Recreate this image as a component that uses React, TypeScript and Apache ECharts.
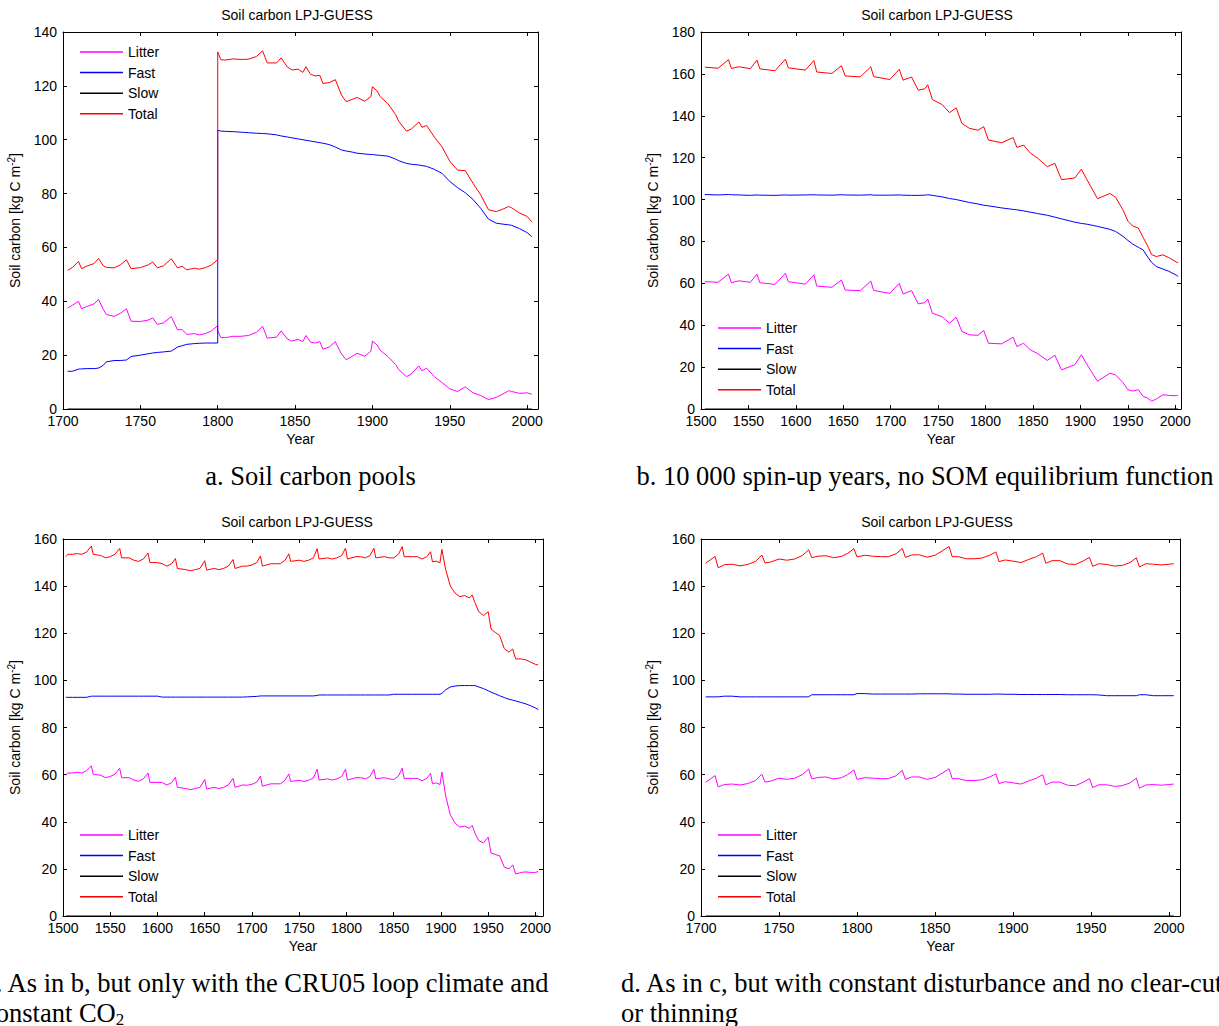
import React, { useEffect, useRef } from "react";
import * as echarts from "echarts";

// ---------- a. Soil carbon pools (clear-cut in 1800) ----------
const yearsA = [
  1703, 1706, 1710, 1712, 1715, 1720, 1723, 1726, 1728, 1733,
  1737, 1741, 1744, 1750, 1755, 1758, 1761, 1765, 1770, 1774,
  1777, 1780, 1785, 1788, 1792, 1796, 1800,
  1800, 1802, 1805, 1810, 1815, 1820, 1825, 1829, 1832, 1835,
  1838, 1841, 1845, 1848, 1852, 1855, 1857, 1860, 1863, 1866,
  1868, 1872, 1876, 1880, 1883, 1887, 1890, 1895, 1899, 1900,
  1903, 1905, 1910, 1915, 1917, 1922, 1925, 1930, 1932, 1935,
  1940, 1945, 1950, 1955, 1960, 1965, 1970, 1975, 1980, 1985,
  1988, 1990, 1995, 2000, 2003,
];
const litterA = [
  37.5, 38.5, 40.0, 37.2, 38.0, 39.0, 40.7, 37.0, 35.1, 34.4,
  35.5, 37.2, 32.6, 32.5, 33.0, 33.8, 31.4, 32.0, 34.3, 29.4,
  29.5, 27.7, 28.0, 27.5, 28.0, 29.0, 31.0,
  29.1, 26.5, 26.5, 27.0, 27.0, 27.3, 28.5, 30.7, 26.3, 26.5,
  26.7, 29.0, 26.0, 25.2, 25.9, 25.0, 27.3, 24.8, 24.5, 25.0,
  22.2, 23.0, 25.0, 20.4, 18.3, 19.6, 20.7, 19.6, 21.5, 25.2,
  23.8, 21.8, 19.5, 16.5, 14.6, 12.0, 13.0, 16.0, 14.2, 15.2,
  12.0, 9.8, 7.5, 6.5, 8.2, 6.0, 5.0, 3.5, 4.3, 5.8,
  6.8, 6.5, 5.8, 6.0, 5.5,
];
const fastA = [
  14.0, 14.0, 14.8, 14.9, 15.0, 15.0, 15.2, 16.2, 17.5, 18.0,
  18.0, 18.2, 19.5, 20.0, 20.5, 20.8, 21.0, 21.2, 21.5, 23.0,
  23.5, 24.0, 24.3, 24.4, 24.5, 24.5, 24.5,
  103.5, 103.2, 103.1, 103.0, 102.8, 102.6, 102.4, 102.3, 102.2, 102.0,
  101.8, 101.4, 101.0, 100.7, 100.3, 100.0, 99.8, 99.5, 99.2, 98.9,
  98.7, 98.2, 97.3, 96.2, 95.8, 95.4, 95.0, 94.7, 94.5, 94.5,
  94.3, 94.2, 93.9, 92.8, 92.2, 91.2, 90.9, 90.6, 90.4, 90.1,
  89.0, 87.5, 84.5, 82.2, 80.3, 77.8, 74.5, 70.5, 69.0, 68.6,
  68.4, 68.2, 67.0, 65.5, 64.0,
];

// ---------- b. 10 000 spin-up years, no SOM equilibrium function ----------
const yearsB = [
  1504, 1518, 1529, 1532, 1540, 1552, 1559, 1562, 1578, 1589,
  1592, 1610, 1619, 1622, 1638, 1648, 1652, 1668, 1679, 1682,
  1699, 1709, 1713, 1722, 1729, 1736, 1739, 1744, 1754, 1762,
  1769, 1775, 1783, 1792, 1798, 1803, 1817, 1829, 1833, 1840,
  1847, 1855, 1865, 1873, 1880, 1894, 1901, 1906, 1918, 1931,
  1937, 1945, 1950, 1955, 1961, 1966, 1971, 1975, 1980, 1987,
  1993, 2001, 2003,
];
const litterB = [
  60.8, 60.5, 64.4, 60.3, 61.2, 60.5, 64.4, 60.3, 59.5, 64.8,
  60.8, 59.6, 64.1, 58.7, 58.1, 61.6, 56.8, 56.5, 61.1, 56.6,
  55.2, 60.0, 54.9, 56.5, 50.2, 50.8, 52.5, 45.7, 44.1, 41.0,
  43.8, 37.0, 35.4, 35.2, 37.5, 31.4, 31.1, 34.3, 29.8, 31.4,
  28.3, 26.4, 23.2, 25.7, 18.7, 21.1, 25.9, 21.9, 13.2, 17.1,
  16.3, 12.5, 9.2, 8.6, 9.2, 6.0, 5.2, 3.7, 4.8, 6.8,
  6.5, 6.3, 6.6,
];
const fastB = [
  102.4, 102.2, 102.4, 102.3, 102.2, 102.0, 102.2, 102.1, 102.0, 102.2,
  102.1, 102.2, 102.3, 102.2, 102.1, 102.3, 102.2, 102.1, 102.3, 102.1,
  102.1, 102.2, 102.1, 102.0, 102.0, 102.1, 102.3, 102.0, 101.3, 100.5,
  100.0, 99.4, 98.6, 97.9, 97.3, 97.0, 96.0, 95.3, 95.1, 94.6,
  94.0, 93.3, 92.5, 91.6, 90.8, 89.2, 88.6, 88.3, 87.2, 85.8,
  84.8, 82.4, 80.5, 78.8, 77.2, 76.0, 72.5, 70.0, 68.0, 66.8,
  65.8, 63.9, 63.3,
];

// ---------- c. CRU05 loop climate and constant CO2 ----------
const yearsC = [
  1503, 1505, 1510, 1515, 1520, 1525, 1530, 1532, 1540, 1545,
  1550, 1555, 1560, 1562, 1570, 1575, 1580, 1585, 1590, 1592,
  1600, 1605, 1610, 1615, 1619, 1621, 1630, 1635, 1640, 1645,
  1650, 1652, 1660, 1665, 1670, 1675, 1680, 1682, 1690, 1695,
  1700, 1705, 1709, 1711, 1720, 1725, 1730, 1735, 1739, 1741,
  1750, 1755, 1760, 1765, 1769, 1771, 1780, 1785, 1790, 1795,
  1799, 1801, 1810, 1815, 1820, 1825, 1829, 1831, 1840, 1845,
  1850, 1855, 1859, 1861, 1870, 1875, 1880, 1885, 1889, 1891,
  1895, 1899, 1901, 1905, 1910, 1915, 1920, 1925, 1930, 1933,
  1936, 1940, 1945, 1950, 1953, 1958, 1962, 1967, 1972, 1976,
  1979, 1985, 1990, 1995, 2000, 2003,
];
const litterC = [
  59.7, 60.7, 60.7, 61.0, 60.7, 61.7, 63.7, 60.2, 59.7, 58.7,
  59.2, 60.2, 62.7, 58.7, 58.7, 57.7, 57.2, 58.2, 60.7, 56.7,
  56.7, 56.6, 55.6, 56.6, 58.8, 54.6, 54.1, 53.6, 54.1, 54.6,
  57.9, 53.9, 54.6, 54.1, 54.6, 55.6, 58.4, 54.6, 55.6, 55.5,
  55.9, 56.8, 59.4, 55.1, 56.1, 56.1, 56.1, 57.6, 60.3, 57.1,
  57.6, 57.1, 57.6, 58.6, 62.3, 57.7, 58.2, 57.7, 58.2, 59.2,
  62.3, 57.7, 58.7, 58.7, 58.2, 59.2, 62.3, 58.2, 58.7, 58.2,
  57.9, 59.4, 62.7, 58.4, 58.4, 58.4, 57.4, 58.4, 60.5, 56.2,
  56.5, 55.8, 61.1, 51.0, 42.8, 39.4, 37.7, 38.2, 37.2, 38.5,
  35.2, 32.0, 31.0, 33.5, 26.8, 26.0, 25.6, 20.8, 20.0, 21.7,
  17.8, 18.5, 18.7, 18.5, 18.5, 18.9,
];
const fastC = [
  92.8, 92.8, 92.8, 92.8, 92.8, 92.8, 93.3, 93.3, 93.3, 93.3,
  93.3, 93.3, 93.3, 93.3, 93.3, 93.3, 93.3, 93.3, 93.3, 93.3,
  93.3, 92.9, 92.9, 92.9, 92.9, 92.9, 92.9, 92.9, 92.9, 92.9,
  92.9, 92.9, 92.9, 92.9, 92.9, 92.9, 92.9, 92.9, 92.9, 93.0,
  93.1, 93.2, 93.4, 93.4, 93.4, 93.4, 93.4, 93.4, 93.4, 93.4,
  93.4, 93.4, 93.4, 93.4, 93.6, 93.8, 93.8, 93.8, 93.8, 93.8,
  93.8, 93.8, 93.8, 93.8, 93.8, 93.8, 93.8, 93.8, 93.8, 93.8,
  94.1, 94.1, 94.1, 94.1, 94.1, 94.1, 94.1, 94.1, 94.1, 94.1,
  94.1, 94.1, 94.5, 96.0, 97.2, 97.6, 97.8, 97.8, 97.8, 97.8,
  97.8, 97.2, 96.5, 95.6, 95.0, 94.2, 93.5, 92.7, 92.0, 91.6,
  91.3, 90.6, 90.0, 89.2, 88.3, 87.6,
];

// ---------- d. constant disturbance, no clear-cut or thinning ----------
const yearsD = [
  1703, 1709, 1711, 1715, 1720, 1725, 1730, 1735, 1739, 1741,
  1745, 1750, 1755, 1760, 1765, 1769, 1771, 1775, 1780, 1785,
  1790, 1794, 1798, 1800, 1805, 1810, 1815, 1820, 1825, 1829,
  1831, 1835, 1840, 1845, 1850, 1855, 1859, 1861, 1865, 1870,
  1875, 1880, 1885, 1889, 1891, 1895, 1900, 1905, 1910, 1915,
  1919, 1921, 1925, 1930, 1935, 1940, 1945, 1949, 1951, 1955,
  1960, 1965, 1970, 1975, 1979, 1981, 1985, 1990, 1995, 2000,
  2003,
];
const litterD = [
  56.7, 59.6, 54.8, 55.8, 56.0, 55.6, 56.2, 57.5, 60.2, 56.8,
  57.3, 58.5, 58.0, 58.5, 60.0, 62.4, 58.2, 58.8, 59.0, 58.2,
  58.7, 60.0, 62.0, 58.0, 58.7, 58.5, 58.3, 58.3, 59.5, 61.8,
  58.0, 59.0, 59.0, 58.0, 58.8, 60.8, 62.5, 58.3, 58.3, 57.5,
  57.5, 57.8, 59.0, 60.3, 56.2, 57.0, 56.5, 56.0, 57.3, 58.5,
  60.0, 55.7, 56.8, 56.8, 55.5, 55.3, 56.8, 58.3, 54.5, 55.7,
  55.7, 55.0, 55.3, 56.5, 58.5, 54.2, 55.6, 55.8, 55.5, 55.8,
  56.0,
];
const fastD = [
  93.0, 93.0, 93.0, 93.3, 93.3, 93.0, 93.0, 93.0, 93.0, 93.0,
  93.0, 93.0, 93.0, 93.0, 93.0, 93.0, 93.9, 93.9, 93.9, 93.9,
  93.9, 93.9, 93.9, 94.4, 94.4, 94.2, 94.2, 94.2, 94.2, 94.2,
  94.2, 94.2, 94.3, 94.3, 94.3, 94.3, 94.3, 94.2, 94.2, 94.1,
  94.1, 94.1, 94.1, 94.2, 94.2, 94.1, 94.1, 94.0, 94.0, 94.0,
  94.0, 94.0, 94.0, 94.0, 93.9, 93.9, 93.9, 93.9, 93.9, 93.8,
  93.5, 93.5, 93.5, 93.5, 93.5, 93.9, 93.9, 93.5, 93.5, 93.5,
  93.5,
];

// The slow pool stays empty over the whole run (start and end of each run)
const slowPool = [0, 0];

const poolNames = ["Litter", "Fast", "Slow", "Total"];
const poolColors: Record<string, string> = {
  Litter: "#ff00ff",
  Fast: "#0000ff",
  Slow: "#000000",
  Total: "#ff0000",
};

const panelTitle = "Soil carbon LPJ-GUESS";
const yAxisName = "{n|Soil carbon [kg C m}{sup|-2}{n|]}";
const xAxisName = "Year";

const SANS = '"Liberation Sans", Arial, Helvetica, sans-serif';
const SERIF = '"Liberation Serif", "Times New Roman", Times, serif';
const INK = "#000";

type Panel = {
  years: number[];
  litter: number[];
  fast: number[];
  xMin: number;
  xMax: number;
  yMax: number;
  grid: { left: number; top: number; width: number; height: number };
  legend: { left: number; top: number };
  titleX: number;
  titleY: number;
};

const panels: Panel[] = [
  {
    years: yearsA, litter: litterA, fast: fastA, xMin: 1700, xMax: 2007, yMax: 140,
    grid: { left: 63, top: 32, width: 475, height: 377 },
    legend: { left: 80, top: 45 }, titleX: 297, titleY: 15,
  },
  {
    years: yearsB, litter: litterB, fast: fastB, xMin: 1500, xMax: 2006, yMax: 180,
    grid: { left: 701, top: 32, width: 480, height: 377 },
    legend: { left: 718, top: 321 }, titleX: 937, titleY: 15,
  },
  {
    years: yearsC, litter: litterC, fast: fastC, xMin: 1500, xMax: 2008, yMax: 160,
    grid: { left: 63, top: 539, width: 480, height: 377 },
    legend: { left: 80, top: 828 }, titleX: 297, titleY: 522,
  },
  {
    years: yearsD, litter: litterD, fast: fastD, xMin: 1700, xMax: 2007, yMax: 160,
    grid: { left: 701, top: 539, width: 479, height: 377 },
    legend: { left: 718, top: 828 }, titleX: 937, titleY: 522,
  },
];

const CAPTION_SIZE = 26.5;
const captionStyle = { fontSize: CAPTION_SIZE, fontFamily: SERIF, fill: INK };

function textEl(x: number, y: number, text: string, style: Record<string, unknown>, align = "left") {
  return {
    type: "text",
    x,
    y,
    silent: true,
    style: {
      text,
      ...style,
      align,
      textAlign: align,
      verticalAlign: "middle",
      textVerticalAlign: "middle",
    },
  };
}

function buildOption() {
  const grid: any[] = [];
  const xAxis: any[] = [];
  const yAxis: any[] = [];
  const series: any[] = [];
  const legend: any[] = [];
  const graphic: any[] = [];

  panels.forEach((p, i) => {
    grid.push({ ...p.grid, containLabel: false, outerBoundsMode: "none" });

    const lineStyle = { color: INK, width: 1 };
    const xBase = {
      type: "value",
      gridIndex: i,
      min: p.xMin,
      max: p.xMax,
      interval: 50,
      splitLine: { show: false },
      axisLine: { show: true, onZero: false, lineStyle },
      axisTick: { show: true, inside: true, length: 4, lineStyle },
    };
    xAxis.push({
      ...xBase,
      position: "bottom",
      name: xAxisName,
      nameLocation: "middle",
      nameGap: 23,
      nameTextStyle: { color: INK, fontFamily: SANS, fontSize: 14 },
      axisLabel: {
        show: true,
        margin: 5,
        color: INK,
        fontFamily: SANS,
        fontSize: 14,
        formatter: (v: number) => (v % 50 === 0 ? String(v) : ""),
      },
    });
    xAxis.push({ ...xBase, position: "top", axisLabel: { show: false } });

    const yBase = {
      type: "value",
      gridIndex: i,
      min: 0,
      max: p.yMax,
      interval: 20,
      splitLine: { show: false },
      axisLine: { show: true, onZero: false, lineStyle },
      axisTick: { show: true, inside: true, length: 4, lineStyle },
    };
    yAxis.push({
      ...yBase,
      position: "left",
      name: yAxisName,
      nameLocation: "middle",
      nameRotate: 90,
      nameGap: 39,
      nameTextStyle: {
        color: INK,
        fontFamily: SANS,
        fontSize: 14,
        rich: {
          n: { color: INK, fontFamily: SANS, fontSize: 14, lineHeight: 18 },
          sup: { color: INK, fontFamily: SANS, fontSize: 10, lineHeight: 10, verticalAlign: "top" },
        },
      },
      axisLabel: { show: true, margin: 6, color: INK, fontFamily: SANS, fontSize: 14 },
    });
    yAxis.push({ ...yBase, position: "right", axisLabel: { show: false } });

    const total = p.years.map((_, k) => +(p.litter[k] + p.fast[k] + slowPool[0]).toFixed(2));
    const last = p.years.length - 1;
    const pools: Record<string, number[][]> = {
      Litter: p.years.map((y, k) => [y, p.litter[k]]),
      Fast: p.years.map((y, k) => [y, p.fast[k]]),
      Slow: [
        [p.years[0], slowPool[0]],
        [p.years[last], slowPool[1]],
      ],
      Total: p.years.map((y, k) => [y, total[k]]),
    };

    poolNames.forEach((name) => {
      series.push({
        type: "line",
        name,
        xAxisIndex: 2 * i,
        yAxisIndex: 2 * i,
        data: pools[name],
        symbol: "none",
        showSymbol: false,
        silent: true,
        color: poolColors[name],
        itemStyle: { color: poolColors[name] },
        lineStyle: { color: poolColors[name], width: 1 },
      });
    });

    legend.push({
      data: poolNames,
      left: p.legend.left,
      top: p.legend.top,
      orient: "vertical",
      padding: 0,
      itemGap: 6.6,
      itemWidth: 43,
      itemHeight: 1.5,
      icon: "rect",
      selectedMode: false,
      textStyle: { color: INK, fontFamily: SANS, fontSize: 14 },
    });

    graphic.push(textEl(p.titleX, p.titleY, panelTitle, { fontSize: 14, fontFamily: SANS, fill: INK }, "center"));
  });

  // Figure captions under each panel
  graphic.push(textEl(310.5, 476, "a. Soil carbon pools", captionStyle, "center"));
  graphic.push(textEl(925, 476, "b. 10 000 spin-up years, no SOM equilibrium function", captionStyle, "center"));
  graphic.push(textEl(-16, 983, "c. As in b, but only with the CRU05 loop climate and", captionStyle));
  graphic.push(
    textEl(-16, 1013, "{n|constant CO}{sub|2}", {
      ...captionStyle,
      rich: {
        n: { fontSize: CAPTION_SIZE, fontFamily: SERIF, fill: INK, color: INK, lineHeight: 30 },
        sub: { fontSize: 17, fontFamily: SERIF, fill: INK, color: INK, lineHeight: 15, verticalAlign: "bottom" },
      },
    })
  );
  graphic.push(textEl(621, 983, "d. As in c, but with constant disturbance and no clear-cut", captionStyle));
  graphic.push(textEl(621, 1013, "or thinning", captionStyle));

  return {
    animation: false,
    backgroundColor: "#ffffff",
    textStyle: { fontFamily: SANS },
    grid,
    xAxis,
    yAxis,
    legend,
    series,
    graphic,
  };
}

export default function App() {
  const ref = useRef<HTMLDivElement>(null);
  useEffect(() => {
    if (!ref.current) return;
    const chart = echarts.init(ref.current, null, { renderer: "svg" });
    chart.setOption(buildOption() as any);
    return () => chart.dispose();
  }, []);
  return (
    <div
      ref={ref}
      style={{ position: "absolute", left: 0, top: 0, width: 1219, height: 1026, background: "#fff" }}
    />
  );
}
